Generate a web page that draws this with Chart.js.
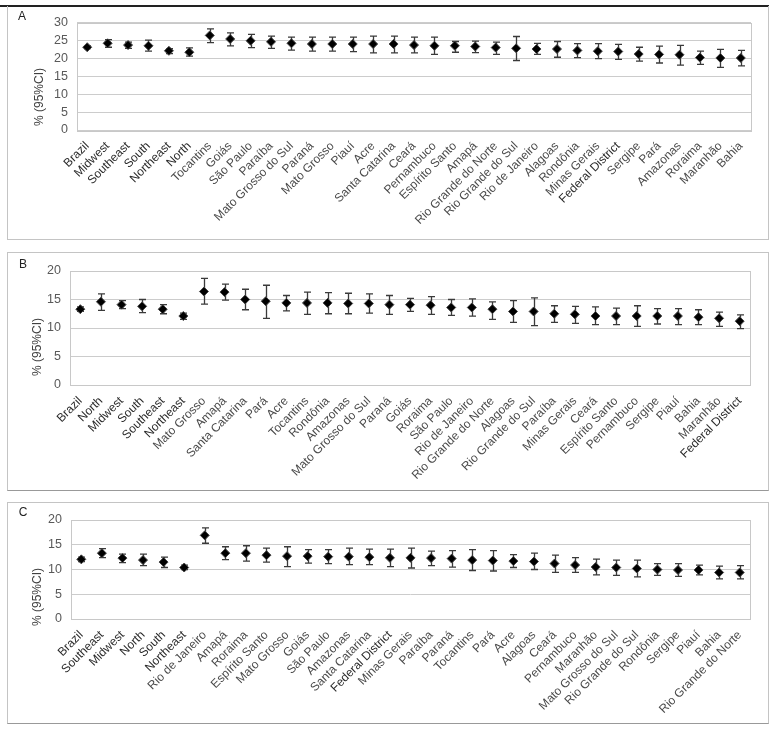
<!DOCTYPE html>
<html><head><meta charset="utf-8">
<script src="https://cdn.jsdelivr.net/npm/chart.js@4"></script>
<style>
html,body{margin:0;padding:0;background:#fff;}
body{width:777px;height:730px;position:relative;overflow:hidden;}
.panel{position:absolute;box-sizing:border-box;border:1px solid #c4c4c4;}
canvas{position:absolute;}
</style></head><body>
<div style="position:absolute;left:0;top:5px;width:769px;height:2px;background:#222"></div>
<div class="panel" style="left:7px;top:6px;width:762px;height:234px;border-top:none"></div>
<div class="panel" style="left:7px;top:252px;width:762px;height:239px;border-bottom-color:#999"></div>
<div class="panel" style="left:7px;top:502px;width:762px;height:222px;border-bottom-color:#999"></div>
<canvas id="cA" width="762" height="234" style="left:7px;top:6px"></canvas>
<canvas id="cB" width="762" height="239" style="left:7px;top:252px"></canvas>
<canvas id="cC" width="762" height="222" style="left:7px;top:502px"></canvas>
<script>
const labelsA = ["Brazil","Midwest","Southeast","South","Northeast","North","Tocantins","Goiás","São Paulo","Paraíba","Mato Grosso do Sul","Paraná","Mato Grosso","Piauí","Acre","Santa Catarina","Ceará","Pernambuco","Espírito Santo","Amapá","Rio Grande do Norte","Rio Grande do Sul","Rio de Janeiro","Alagoas","Rondônia","Minas Gerais","Federal District","Sergipe","Pará","Amazonas","Roraima","Maranhão","Bahia"];
const valA = [23.1,24.2,23.7,23.5,22.1,21.7,26.4,25.4,24.9,24.6,24.2,24.0,24.0,24.0,24.0,24.0,23.7,23.5,23.5,23.3,23.0,22.8,22.6,22.6,22.2,22.0,21.9,21.2,21.1,21.0,20.2,20.1,20.1];
const loA = [22.7,23.1,22.8,22.0,21.3,20.6,24.4,23.5,23.0,22.8,22.3,22.0,22.0,21.9,21.5,21.5,21.5,21.1,21.7,21.6,21.1,19.4,21.1,20.3,20.2,19.9,19.7,19.2,18.7,18.1,18.3,17.5,17.9];
const hiA = [23.5,25.2,24.5,25.1,22.7,22.9,28.2,27.1,26.7,26.2,25.9,25.9,25.9,25.9,26.2,26.2,25.9,25.9,24.7,24.8,24.5,26.1,24.2,24.7,24.1,24.1,23.9,23.1,23.4,23.6,22.0,22.5,22.2];

const labelsB = ["Brazil","North","Midwest","South","Southeast","Northeast","Mato Grosso","Amapá","Santa Catarina","Pará","Acre","Tocantins","Rondônia","Amazonas","Mato Grosso do Sul","Paraná","Goiás","Roraima","São Paulo","Rio de Janeiro","Rio Grande do Norte","Alagoas","Rio Grande do Sul","Paraíba","Minas Gerais","Ceará","Espírito Santo","Pernambuco","Sergipe","Piauí","Bahia","Maranhão","Federal District"];
const valB = [13.3,14.6,14.1,13.8,13.3,12.1,16.4,16.3,15.0,14.7,14.4,14.4,14.4,14.3,14.3,14.1,14.1,14.0,13.6,13.6,13.3,12.9,12.9,12.5,12.4,12.1,12.1,12.1,12.1,12.1,11.9,11.7,11.2];
const loB = [12.9,13.1,13.4,12.7,12.5,11.5,14.2,14.9,13.2,11.7,13.0,12.4,12.5,12.5,12.6,12.4,12.9,12.4,12.2,12.1,11.5,11.0,10.4,11.0,10.8,10.6,10.6,10.3,10.7,10.6,10.6,10.3,9.9];
const hiB = [13.7,16.0,14.8,15.0,14.1,12.6,18.7,17.7,16.8,17.5,15.7,16.3,16.2,16.1,16.0,15.7,15.2,15.5,15.0,15.1,14.6,14.8,15.3,13.9,13.8,13.7,13.5,13.9,13.4,13.4,13.2,12.8,12.3];

const labelsC = ["Brazil","Southeast","Midwest","North","South","Northeast","Rio de Janeiro","Amapá","Roraima","Espírito Santo","Mato Grosso","Goiás","São Paulo","Amazonas","Santa Catarina","Federal District","Minas Gerais","Paraíba","Paraná","Tocantins","Pará","Acre","Alagoas","Ceará","Pernambuco","Maranhão","Mato Grosso do Sul","Rio Grande do Sul","Rondônia","Sergipe","Piauí","Bahia","Rio Grande do Norte"];
const valC = [12.05,13.3,12.3,11.9,11.5,10.4,16.9,13.3,13.3,12.9,12.7,12.7,12.6,12.6,12.5,12.35,12.35,12.3,12.2,11.9,11.8,11.7,11.6,11.2,10.9,10.5,10.4,10.2,10.0,9.9,9.9,9.4,9.4];
const loC = [11.6,12.4,11.4,10.8,10.4,10.0,15.3,12.0,11.7,11.5,10.6,11.3,11.2,11.0,11.0,10.6,10.3,10.8,10.5,9.8,9.7,10.4,10.0,9.4,9.4,8.9,8.8,8.5,8.8,8.6,8.9,8.1,8.1];
const hiC = [12.5,14.2,13.1,13.1,12.5,10.9,18.4,14.6,14.8,14.3,14.6,14.0,14.0,14.3,14.1,14.1,14.3,13.7,13.8,14.0,13.8,13.0,13.3,12.9,12.4,12.1,11.9,11.9,11.2,11.2,10.9,10.7,10.8];

const yTicksA = [0,5,10,15,20,25,30];
const yTicksBC = [0,5,10,15,20];
const yTitle = "% (95%CI)";
const darkLabels = ["Brazil","North","Northeast","Southeast","South","Midwest","Federal District"];

const FONT = "'Liberation Sans', Arial, sans-serif";

function errPlugin(lo, hi) {
  return {
    id: 'err',
    beforeDatasetsDraw(chart) {
      const {ctx, chartArea: a, scales: {x, y}} = chart;
      ctx.save();
      ctx.strokeStyle = '#c8c8c8';
      ctx.lineWidth = 1;
      ctx.strokeRect(Math.round(a.left) + 0.5, Math.round(a.top) + 0.5, Math.round(a.right - a.left), Math.round(a.bottom - a.top));
      ctx.strokeStyle = '#3a3a3a';
      ctx.lineWidth = 1.3;
      for (let i = 0; i < lo.length; i++) {
        const px = Math.round(x.getPixelForValue(i)) + 0.5;
        const y1 = y.getPixelForValue(lo[i]);
        const y2 = y.getPixelForValue(hi[i]);
        ctx.beginPath();
        ctx.moveTo(px, y1); ctx.lineTo(px, y2);
        ctx.moveTo(px - 3.5, y1); ctx.lineTo(px + 3.5, y1);
        ctx.moveTo(px - 3.5, y2); ctx.lineTo(px + 3.5, y2);
        ctx.stroke();
      }
      ctx.restore();
    }
  };
}

function decoPlugin(letter, lx, ly, tx, ty) {
  return {
    id: 'deco',
    afterDraw(chart) {
      const ctx = chart.ctx;
      ctx.save();
      ctx.fillStyle = '#222';
      ctx.font = "12px " + FONT;
      ctx.textAlign = 'center';
      ctx.textBaseline = 'middle';
      ctx.fillText(letter, lx, ly);
      ctx.translate(tx, ty);
      ctx.rotate(-Math.PI / 2);
      ctx.fillStyle = '#404040';
      ctx.fillText(yTitle, 0, 0);
      ctx.restore();
    }
  };
}

function build(id, labels, vals, lo, hi, ticks, box, letter, lx, ly, tx, ty) {
  new Chart(document.getElementById(id), {
    type: 'line',
    data: {
      labels: labels,
      datasets: [{
        data: vals, showLine: false, pointStyle: 'rectRot', pointRadius: 4.5,
        pointHoverRadius: 4.5, pointBackgroundColor: '#000', pointBorderColor: '#444',
        pointBorderWidth: 1
      }]
    },
    options: {
      responsive: false, animation: false, events: [],
      layout: {padding: {left: 0, top: box.top, right: box.right, bottom: 0}},
      plugins: {legend: {display: false}, tooltip: {enabled: false}},
      scales: {
        x: {
          type: 'category', offset: true,
          grid: {display: false}, border: {display: false},
          ticks: {
            autoSkip: false, maxRotation: 45, minRotation: 45, padding: 1,
            color: (c) => darkLabels.includes(labels[c.index]) ? '#2a2a2a' : '#4a4a4a',
            font: {family: FONT, size: 12}
          },
          afterFit(s) { s.height = box.xh; }
        },
        y: {
          min: ticks[0], max: ticks[ticks.length - 1],
          afterBuildTicks(s) { s.ticks = ticks.map(v => ({value: v})); },
          ticks: {autoSkip: false, padding: 9, color: '#595959', font: {family: FONT, size: 12.5}},
          grid: {color: '#cccccc', drawTicks: false},
          border: {display: false},
          afterFit(s) { s.width = box.yw; }
        }
      }
    },
    plugins: [errPlugin(lo, hi), decoPlugin(letter, lx, ly, tx, ty)]
  });
}

build('cA', labelsA, valA, loA, hiA, yTicksA, {top: 16, right: 18, yw: 70, xh: 110}, 'A', 15, 11, 33, 91);
build('cB', labelsB, valB, loB, hiB, yTicksBC, {top: 19, right: 19, yw: 63, xh: 106}, 'B', 16, 13, 31, 95);
build('cC', labelsC, valC, loC, hiC, yTicksBC, {top: 18, right: 19, yw: 64, xh: 105}, 'C', 16, 11, 31, 95);
</script>
</body></html>
